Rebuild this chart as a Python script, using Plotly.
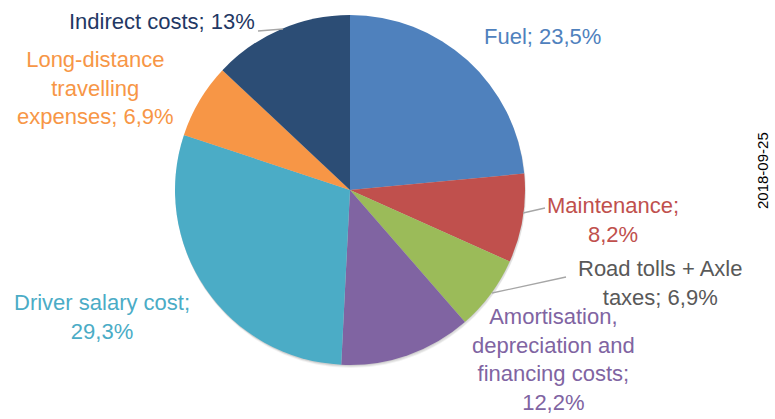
import plotly.graph_objects as go

# Cost split of a truck operation (share of total, %)
categories = [
    "Fuel", "Maintenance", "Road tolls + Axle taxes",
    "Amortisation, depreciation and financing costs",
    "Driver salary cost", "Long-distance travelling expenses", "Indirect costs",
]
shares = [23.5, 8.2, 6.9, 12.2, 29.3, 6.9, 13]
share_labels = ["23,5%", "8,2%", "6,9%", "12,2%", "29,3%", "6,9%", "13%"]
colors = ["#4f81bd", "#c0504d", "#9bbb59", "#8064a2", "#4bacc6", "#f79646", "#2c4d75"]
label_colors = ["#4f81bd", "#c0504d", "#595959", "#8064a2", "#4bacc6", "#f79646", "#1f3864"]

# wrapped label text as in the source chart
label_lines = [
    ["Fuel; {}"],
    ["Maintenance;", "{}"],
    ["Road tolls + Axle", "taxes; {}"],
    ["Amortisation,", "depreciation and", "financing costs;", "{}"],
    ["Driver salary cost;", "{}"],
    ["Long-distance", "travelling", "expenses; {}"],
    ["Indirect costs; {}"],
]

W, H = 775, 419
FONT = "Liberation Sans, Arial, sans-serif"

# label centres in page pixels (x, y from top)
label_pos = [(542, 37), (613, 220), (660, 283), (553, 359), (102, 317), (95, 88), (162, 22)]


def px(x, y):
    return x / W, 1 - y / H


fig = go.Figure()

# soft drop shadow under the pie
for dx, dy, alpha in [(1, 3, 0.05), (1, 2, 0.07), (0, 1, 0.08)]:
    x0, y0 = px(175 + dx, 365 + dy)
    x1, y1 = px(525 + dx, 15 + dy)
    fig.add_trace(go.Pie(
        values=[1], labels=["shadow"], sort=False, textinfo="none", hoverinfo="skip",
        marker=dict(colors=[f"rgba(0,0,0,{alpha})"], line=dict(width=0)),
        showlegend=False, domain=dict(x=[x0, x1], y=[y0, y1]),
    ))

x0, y0 = px(175, 365)
x1, y1 = px(525, 15)
fig.add_trace(go.Pie(
    labels=categories, values=shares, sort=False, direction="clockwise", rotation=0,
    marker=dict(colors=colors, line=dict(width=0)),
    textinfo="none", hoverinfo="label+percent", showlegend=False,
    domain=dict(x=[x0, x1], y=[y0, y1]),
))

for lines, lab, col, (x, y) in zip(label_lines, share_labels, label_colors, label_pos):
    ax, ay = px(x, y)
    fig.add_annotation(
        x=ax, y=ay, xref="paper", yref="paper", showarrow=False,
        xanchor="center", yanchor="middle",
        text="<br>".join(lines).format(lab), align="center",
        font=dict(family=FONT, size=22, color=col),
    )

# leader lines
leaders = [((258, 31), (283, 29)), ((523, 213), (545, 208)), ((492, 293), (566, 277))]
for (xa, ya), (xb, yb) in leaders:
    a0, b0 = px(xa, ya)
    a1, b1 = px(xb, yb)
    fig.add_shape(type="line", xref="paper", yref="paper", x0=a0, y0=b0, x1=a1, y1=b1,
                  line=dict(color="#a6a6a6", width=1.3))

dx, dy = px(763, 171)
fig.add_annotation(
    x=dx, y=dy, xref="paper", yref="paper", showarrow=False,
    xanchor="center", yanchor="middle",
    text="2018-09-25", textangle=-90,
    font=dict(family=FONT, size=15, color="#000000"),
)

fig.update_layout(
    width=W, height=H, margin=dict(l=0, r=0, t=0, b=0),
    paper_bgcolor="white", plot_bgcolor="white",
)
# drop the default page margin so the figure fills the window exactly
fig.write_html("out.html", config={"displayModeBar": False},
               post_script="document.body.style.margin='0';")
